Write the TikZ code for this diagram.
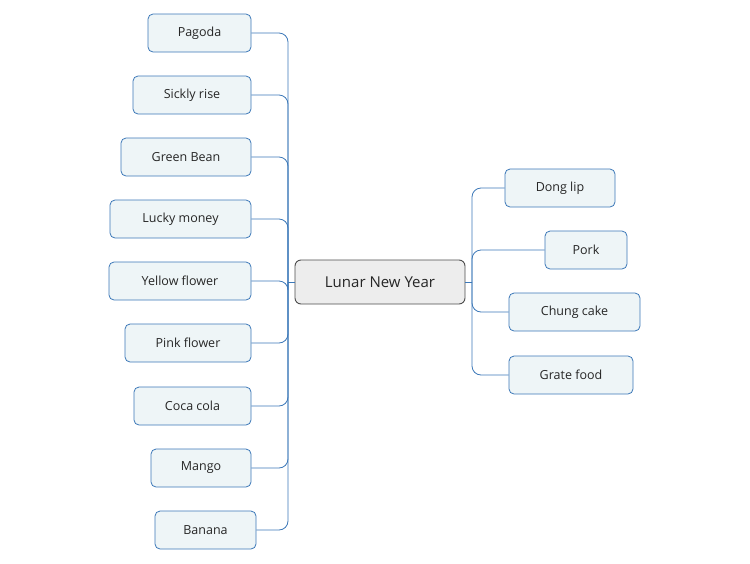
\documentclass[tikz,border=0pt]{standalone}
\usepackage{fontspec}
\setmainfont{Open Sans}
\definecolor{bl}{HTML}{3C78B8}
\definecolor{fillc}{HTML}{EEF5F7}
\begin{document}
\begin{tikzpicture}[x=1pt,y=-1pt,
 leaf/.style={draw=bl,fill=fillc,rounded corners=5pt,line width=0.8pt,minimum height=38pt,inner sep=0pt,font=\fontsize{12.5}{14}\selectfont,text=black!85},
 root/.style={draw=black!70,fill=black!7,rounded corners=6pt,line width=0.9pt,minimum height=44pt,minimum width=170pt,font=\fontsize{15}{17}\selectfont,text=black!85},
 conn/.style={draw=bl,line width=0.8pt,rounded corners=9pt}]
\useasboundingbox (0,0) rectangle (750,563);
\coordinate (L) at (288,282);
\coordinate (R) at (472,282);
\foreach \n/\a/\b/\y/\t in {p1/148/251/33/Pagoda,p2/133/251/95/Sickly rise,p3/121/251/157/Green Bean,p4/110/251/219/Lucky money,p5/109/251/281/Yellow flower,p6/125/251/343/Pink flower,p7/134/251/406/Coca cola,p8/151/251/468/Mango,p9/155/256/530/Banana}{
 \node[leaf,minimum width={(\b-\a)*1pt}] (\n) at ({(\a+\b)/2},\y) {\t};
 \draw[conn] (L) |- (\n.east);
}
\foreach \n/\a/\b/\y/\t in {q1/505/615/188/Dong lip,q2/545/627/250/Pork,q3/509/640/312/Chung cake,q4/509/633/375/Grate food}{
 \node[leaf,minimum width={(\b-\a)*1pt}] (\n) at ({(\a+\b)/2},\y) {\t};
 \draw[conn] (R) |- (\n.west);
}
\node[root] (c) at (380,282) {Lunar New Year};
\draw[conn] (c.west) -- (L);
\draw[conn] (c.east) -- (R);
\end{tikzpicture}
\end{document}
